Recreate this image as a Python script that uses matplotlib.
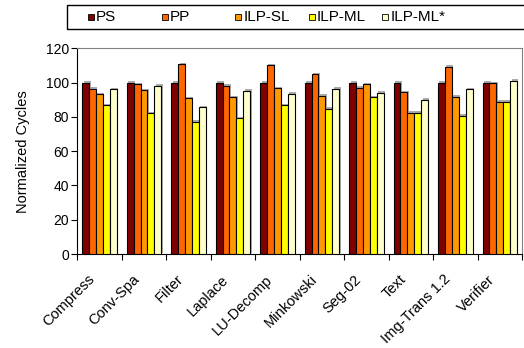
import numpy as np
import matplotlib.pyplot as plt
import matplotlib.patheffects as pe
import matplotlib.transforms as mtransforms
from matplotlib.patches import Rectangle

plt.rcParams['font.family'] = ['Liberation Sans', 'DejaVu Sans']

benchmarks = ["Compress", "Conv-Spa", "Filter", "Laplace", "LU-Decomp",
              "Minkowski", "Seg-02", "Text", "Img-Trans 1.2", "Verifier"]
series_names = ["PS", "PP", "ILP-SL", "ILP-ML", "ILP-ML*"]
colors = ["#800000", "#FF6600", "#FF9900", "#FFFF00", "#FFFFCC"]

ps = [100, 100, 100, 100, 100, 100, 100, 100, 100, 100]
pp = [96.5, 99.0, 110.9, 98.1, 110.3, 104.9, 97.1, 94.4, 109.2, 99.6]
ilp_sl = [93.2, 95.5, 90.9, 91.3, 96.7, 92.4, 99.0, 82.5, 91.8, 88.9]
ilp_ml = [86.8, 82.1, 77.1, 79.2, 86.8, 84.8, 91.3, 82.5, 80.6, 88.9]
ilp_ml_star = [96.1, 98.1, 85.6, 95.2, 93.6, 96.5, 94.0, 90.1, 96.1, 101.0]

values = [ps, pp, ilp_sl, ilp_ml, ilp_ml_star]

fig = plt.figure(figsize=(5.24, 3.48), dpi=100)
ax = fig.add_axes([0.1475, 0.2701, 0.8487, 0.5911])

x = np.arange(len(benchmarks))
width = 0.155
shadow = [pe.SimplePatchShadow(offset=(1, 1), shadow_rgbFace="#888888", alpha=0.7), pe.Normal()]
for i, (vals, col) in enumerate(zip(values, colors)):
    bars = ax.bar(x + (i - 2) * width, vals, width, color=col,
                  edgecolor="black", linewidth=0.8, zorder=3)
    for b in bars:
        b.set_path_effects(shadow)

ax.set_xlim(-0.5, len(benchmarks) - 0.5)
ax.set_ylim(0, 120)
ax.set_yticks(np.arange(0, 121, 20))
ax.tick_params(axis="y", labelsize=10, length=4, width=0.8, direction="out", pad=2)

ax.set_xticks(x)
ax.set_xticklabels(benchmarks, rotation=45, ha="right", rotation_mode="anchor", fontsize=10.5)
ax.tick_params(axis="x", which="major", length=0, pad=6)
ax.set_xticks(np.arange(-0.5, len(benchmarks)), minor=True)
ax.tick_params(axis="x", which="minor", length=4, width=0.8, direction="out")

# push the rotated labels a bit left and down
offset = mtransforms.ScaledTranslation(-0.12, -0.10, fig.dpi_scale_trans)
for lab in ax.get_xticklabels():
    lab.set_transform(lab.get_transform() + offset)

ax.set_ylabel("Normalized Cycles", fontsize=10.5, labelpad=11)

for s in ["top", "right"]:
    ax.spines[s].set_color("#808080")
    ax.spines[s].set_linewidth(0.8)
for s in ["left", "bottom"]:
    ax.spines[s].set_color("black")
    ax.spines[s].set_linewidth(0.8)

# legend box drawn by hand so the entries sit at equal spacing
W, H = 524.0, 348.0
fig.patches.append(Rectangle((66.7 / W, 1 - 29.3 / H), (540 - 66.7) / W, 24.6 / H,
                             transform=fig.transFigure, facecolor="white",
                             edgecolor="black", linewidth=1.0))
for i, (name, col) in enumerate(zip(series_names, colors)):
    x0 = 88 + i * 73.6
    fig.patches.append(Rectangle((x0 / W, 1 - 20.0 / H), 6 / W, 6 / H,
                                 transform=fig.transFigure, facecolor=col,
                                 edgecolor="black", linewidth=0.6))
    fig.text((x0 + 8) / W, 1 - 17.0 / H, name, fontsize=11, va="center", ha="left")

fig.savefig("out.png", dpi=100)
